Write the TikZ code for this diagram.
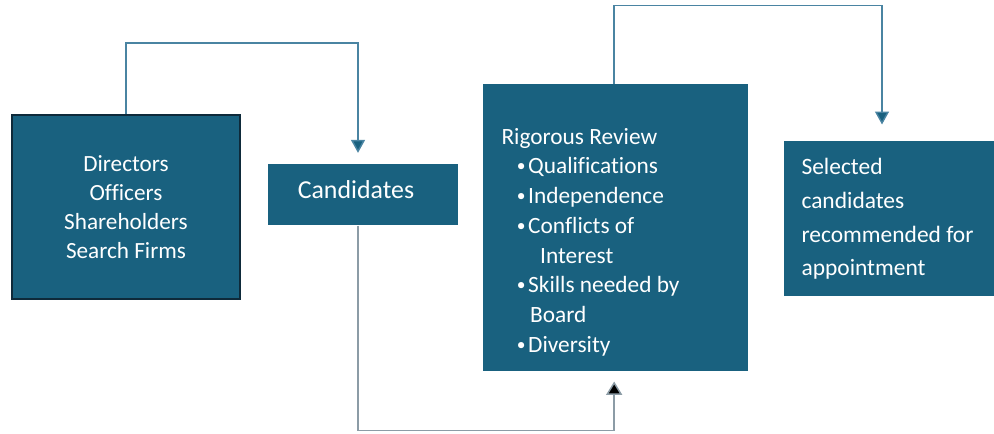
\documentclass[tikz,border=0pt]{standalone}
\usepackage{fontspec}
\setmainfont{Carlito}[Ligatures=NoCommon]
\usetikzlibrary{arrows.meta}

\definecolor{boxteal}{RGB}{25,97,127}
\definecolor{boxedge}{RGB}{14,42,58}
\definecolor{linkblue}{RGB}{74,132,162}
\definecolor{linkgrey}{RGB}{140,156,166}

\tikzset{every picture/.style={line width=0.75pt}}
\tikzset{
  box/.style={fill=boxteal, inner sep=0pt, text=white},
  boxtext/.style={text=white, inner sep=0pt, align=left},
  link/.style={draw=linkblue, line width=1.1pt, -{Triangle[length=9.75pt,width=10.5pt]}},
}
\newcommand{\bul}{\hspace*{11.5pt}\makebox[8.5pt][l]{\raisebox{1.5pt}{\scalebox{0.75}{\textbullet}}}}

\begin{document}
\begin{tikzpicture}[x=0.75pt,y=0.75pt,yscale=-1,xscale=1]
\useasboundingbox (0,0) rectangle (994,433);

% Boxes
\node [box, draw=boxedge, line width=1.5pt, minimum width=171pt, minimum height=138pt, align=center,
       font=\fontsize{17.4}{21.75}\selectfont] (sources) at (126,207)
  {Directors\\Officers\\Shareholders\\Search Firms};
\node [box, minimum width=142.5pt, minimum height=45.75pt] (cands) at (363,194.5) {};
\node [box, minimum width=198.75pt, minimum height=215.25pt] (review) at (615.5,227.5) {};
\node [box, minimum width=157.5pt, minimum height=116.25pt] (chosen) at (889,218.5) {};

% Text Node
\node [boxtext, font=\fontsize{19.4}{22}\selectfont] (candstext) at (356,190) {Candidates};
% Text Node
\node [boxtext, anchor=west, font=\fontsize{17.5}{22.3}\selectfont] (reviewtext) at (501,242)
  {Rigorous Review\\
   \bul Qualifications\\
   \bul Independence\\
   \bul Conflicts of\\
   \hspace*{29pt}Interest\\
   \bul Skills needed by\\
   \hspace*{21.5pt}Board\\
   \bul Diversity};
% Text Node
\node [boxtext, anchor=west, font=\fontsize{17.6}{25.3}\selectfont] (chosentext) at (801,219)
  {Selected\\candidates\\recommended for\\appointment};

% Connectors
\draw [link, -{Triangle[length=9.75pt,width=10.5pt,fill=boxteal]}, shorten >=8pt]
  (sources.north) -- ++(0,-71) -| ([xshift=-3.75pt]cands.north);
\draw [link, draw=linkgrey, -{Triangle[length=10pt,width=12pt,fill=black]}, shorten >=7.5pt]
  ([xshift=-3.75pt]cands.south) -- ++(0,205) -| ([xshift=-1pt]review.south);
\draw [link, -{Triangle[length=9.75pt,width=10.5pt,fill=boxteal]}, shorten >=12pt]
  ([xshift=-1pt]review.north) -- ++(0,-78) -| ([xshift=-5.25pt]chosen.north);

\end{tikzpicture}
\end{document}
